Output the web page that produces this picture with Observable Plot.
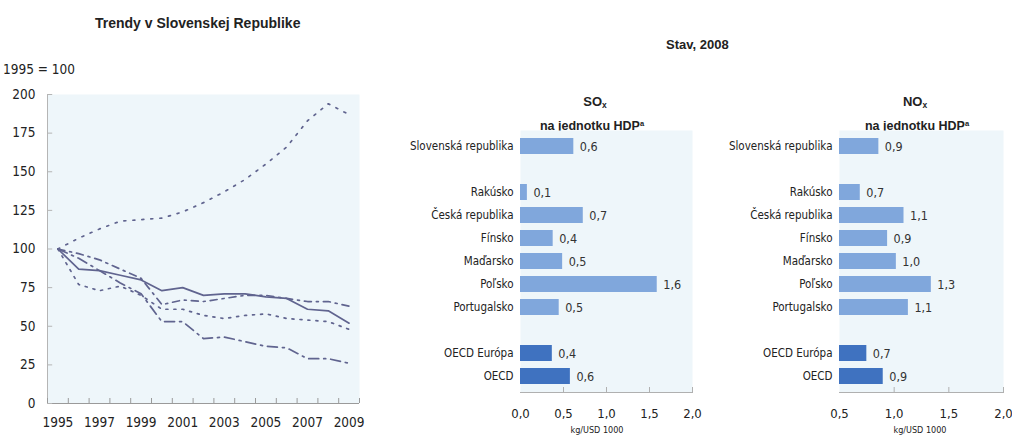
<!DOCTYPE html>
<html><head><meta charset="utf-8">
<script src="https://cdn.jsdelivr.net/npm/d3@7"></script>
<script src="https://cdn.jsdelivr.net/npm/@observablehq/plot@0.6"></script>
<style>
body{margin:0;background:#fff;}
#wrap{position:relative;width:1012px;height:435px;overflow:hidden;font-family:"Liberation Sans Narrow","Arial Narrow","DejaVu Sans Condensed",sans-serif;color:#222;}
.abs{position:absolute;white-space:nowrap;line-height:1;}
.bold{font-family:"Liberation Sans",Arial,sans-serif;font-weight:bold;}
.ctr{text-align:center;}
.panel{position:absolute;}
sub{font-size:0.65em;vertical-align:-0.25em;}
sup{font-size:0.6em;vertical-align:0.55em;}
</style></head>
<body><div id="wrap">
  <div class="abs bold" style="left:95px;top:16px;font-size:14px;">Trendy v Slovenskej Republike</div>
  <div class="abs" style="left:3px;top:63px;font-size:13.5px;">1995 = 100</div>
  <div class="abs bold" style="left:666px;top:38px;font-size:13px;">Stav, 2008</div>
  <div class="abs bold ctr" style="left:545px;top:95px;width:100px;font-size:13px;">SO<sub>x</sub></div>
  <div class="abs bold ctr" style="left:512px;top:120px;width:160px;font-size:12.5px;">na jednotku HDP<sup>a</sup></div>
  <div class="abs bold ctr" style="left:865px;top:95px;width:100px;font-size:13px;">NO<sub>x</sub></div>
  <div class="abs bold ctr" style="left:837px;top:120px;width:160px;font-size:12.5px;">na jednotku HDP<sup>a</sup></div>
  <div class="abs ctr" style="left:547px;top:426px;width:100px;font-size:9px;">kg/USD 1000</div>
  <div class="abs ctr" style="left:870px;top:426px;width:100px;font-size:9px;">kg/USD 1000</div>
  <div id="p1" class="panel" style="left:0;top:85px;"></div>
  <div id="p2" class="panel" style="left:400px;top:120px;"></div>
  <div id="p3" class="panel" style="left:720px;top:120px;"></div>
</div>
<script>
// ---- Trend data (1995 = 100) ----
const years = [1995,1996,1997,1998,1999,2000,2001,2002,2003,2004,2005,2006,2007,2008,2009];
const hdpIndex      = [100,107,113,118,119,120,124,130,137,145,155,166,183,194,187];
const solidIndex    = [100,87,86,83,80,73,75,70,71,71,69,68,61,60,52];
const dashDotIndex  = [100,97,93,87,81,64,67,66,68,70,70,68,66,66,63];
const longDashIndex = [100,94,86,78,71,53,53,42,43,40,37,36,29,29,26];
const dottedIndex   = [100,77,73,76,70,61,61,57,55,57,58,55,54,53,48];
const yTicks = [0,25,50,75,100,125,150,175,200];
const xTickYears = [1995,1997,1999,2001,2003,2005,2007,2009];

// ---- Bar data (2008) ----
const countries = ["Slovenská republika","Rakúsko","Česká republika","Fínsko","Maďarsko","Poľsko","Portugalsko","OECD Európa","OECD"];
const rowOrder = ["Slovenská republika","gap1","Rakúsko","Česká republika","Fínsko","Maďarsko","Poľsko","Portugalsko","gap2","OECD Európa","OECD"];
const soxValues = [0.62,0.08,0.73,0.38,0.49,1.59,0.45,0.37,0.58];
const soxLabels = ["0,6","0,1","0,7","0,4","0,5","1,6","0,5","0,4","0,6"];
const noxValues = [0.86,0.69,1.09,0.94,1.02,1.34,1.13,0.75,0.90];
const noxLabels = ["0,9","0,7","1,1","0,9","1,0","1,3","1,1","0,7","0,9"];
const soxTicks = [0,0.5,1,1.5,2];
const noxTicks = [0.5,1,1.5,2];
const oecdGroup = ["OECD Európa","OECD"];

const bg = "#eef6fa";
const lineColor = "#60648f";
const font = '"Liberation Sans Narrow","Arial Narrow","DejaVu Sans Condensed",sans-serif';

// ---- Line chart ----
const seriesDefs = [
  {values: hdpIndex, dash: "2,7"},
  {values: solidIndex, dash: null},
  {values: dashDotIndex, dash: "7,5,2,5"},
  {values: longDashIndex, dash: "10,5,2,5"},
  {values: dottedIndex, dash: "2,6"}
];
const boundaries = years.map(y => y - 0.5).concat([years[years.length-1] + 0.5]);
const lineMarks = seriesDefs.map(s => Plot.line(years.map((yr,i) => ({year: yr, value: s.values[i]})), {
  x: "year", y: "value", stroke: lineColor, strokeWidth: 1.7,
  strokeDasharray: s.dash || undefined
}));
const W1 = 370, H1 = 350, mt1 = 9, mb1 = 32;
const p1 = Plot.plot({
  width: W1, height: H1,
  marginLeft: 47, marginRight: 11, marginTop: mt1, marginBottom: mb1,
  style: {fontFamily: font, fontSize: "13.5px", color: "#222", background: "transparent", overflow: "visible"},
  x: {domain: [years[0], years[years.length-1]], insetLeft: 10.4, insetRight: 10.4, label: null},
  y: {domain: [0, 200], label: null},
  marks: [
    Plot.frame({fill: bg, stroke: null}),
    Plot.ruleY([0], {stroke: "#9a9a9a"}),
    Plot.ruleX([boundaries[0]], {stroke: "#b5b5b5"}),
    Plot.ruleX(boundaries, {stroke: "#9a9a9a", insetTop: H1 - mt1 - mb1 - 5}),
    Plot.ruleY(yTicks, {x1: boundaries[0], x2: boundaries[0] + 0.25, stroke: "#b5b5b5"}),
    Plot.axisY({ticks: yTicks, tickSize: 0, tickPadding: 12, tickFormat: d => String(d), label: null}),
    Plot.axisX({ticks: xTickYears, tickSize: 0, tickPadding: 14, tickFormat: d => String(d), label: null}),
    ...lineMarks
  ]
});
document.getElementById("p1").appendChild(p1);

// ---- Bar charts ----
function barPanel(values, labels, ticks, domain, ml, mr, W) {
  const rows = countries.map((c,i) => ({name: c, value: values[i], label: labels[i], oecd: oecdGroup.includes(c)}));
  const H = 315, mt = 10, mb = 43;
  return Plot.plot({
    width: W, height: H,
    marginLeft: ml, marginRight: mr, marginTop: mt, marginBottom: mb,
    style: {fontFamily: font, fontSize: "13px", color: "#222", background: "transparent", overflow: "visible"},
    x: {domain: domain, label: null},
    y: {domain: rowOrder, paddingInner: 0.32, paddingOuter: 0.15, label: null},
    marks: [
      Plot.frame({fill: bg, stroke: null}),
      Plot.frame({anchor: "bottom", stroke: "#b0b0b0"}),
      Plot.ruleX(ticks.slice(1), {stroke: "#b0b0b0", insetTop: H - mt - mb - 5}),
      Plot.barX(rows, {y: "name", x1: () => domain[0], x2: "value", fill: d => d.oecd ? "#3f72c0" : "#80a7dc"}),
      Plot.text(rows, {y: "name", x: "value", text: "label", textAnchor: "start", dx: 6, fill: "#333", fontSize: 12.5}),
      Plot.axisY({tickSize: 0, tickPadding: 7, tickFormat: d => d.startsWith("gap") ? "" : d, fontSize: 11.5, label: null}),
      Plot.axisX({ticks: ticks, tickSize: 0, tickPadding: 16, tickFormat: d => d.toFixed(1).replace(".", ","), fontSize: 13, label: null})
    ]
  });
}
document.getElementById("p2").appendChild(barPanel(soxValues, soxLabels, soxTicks, [0, 2], 120, 8, 300));
document.getElementById("p3").appendChild(barPanel(noxValues, noxLabels, noxTicks, [0.5, 2], 119, 9, 292));
</script>
</body></html>
